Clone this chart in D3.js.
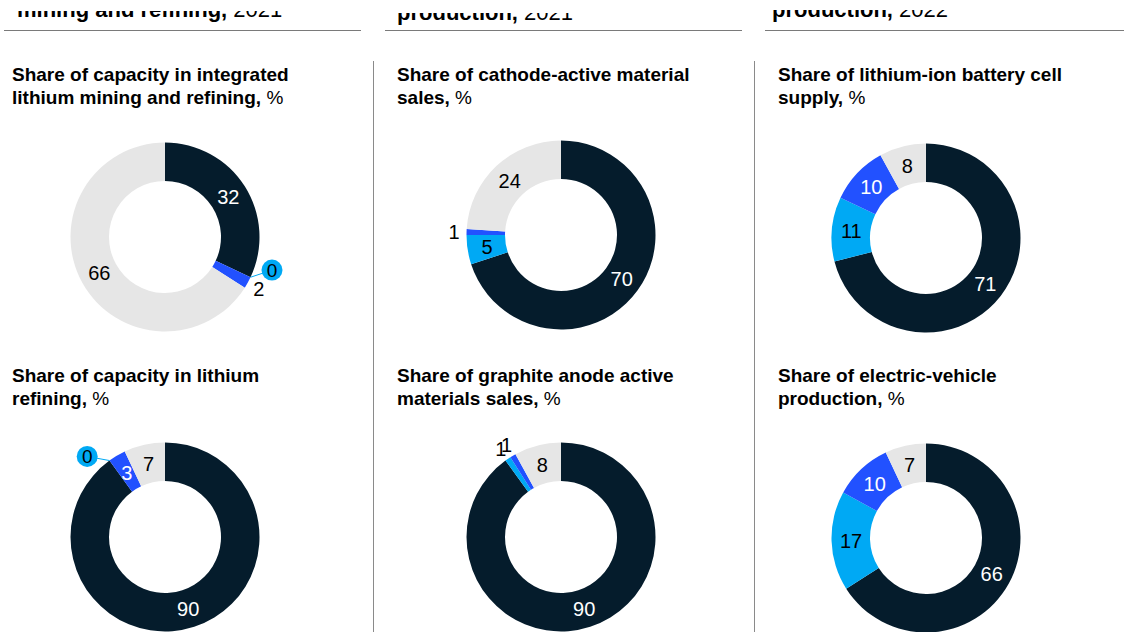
<!DOCTYPE html>
<html><head><meta charset="utf-8">
<script src="https://cdn.jsdelivr.net/npm/d3@7"></script>
<style>
html,body{margin:0;padding:0;background:#fff;overflow:hidden}
svg{display:block}
text{font-family:"Liberation Sans",Arial,Helvetica,sans-serif}
</style>
</head><body>
<svg id="chart" width="1125" height="632"></svg>
<script>
// ---------- data ----------
const segmentKeys = ["Leader", "Segment 2", "Segment 3", "Rest of world"];
const headerBold = ["mining and refining,", "production,", "production,"];
const headerYear = ["2021", "2021", "2022"];
const titleLine1 = [
  "Share of capacity in integrated",
  "Share of cathode-active material",
  "Share of lithium-ion battery cell",
  "Share of capacity in lithium",
  "Share of graphite anode active",
  "Share of electric-vehicle"
];
const titleLine2 = [
  "lithium mining and refining,",
  "sales,",
  "supply,",
  "refining,",
  "materials sales,",
  "production,"
];
const titleUnit = "%";
const liMiningRefining = [32, 0, 2, 66];
const cathodeSales     = [70, 5, 1, 24];
const cellSupply       = [71, 11, 10, 8];
const liRefining       = [90, 0, 3, 7];
const anodeSales       = [90, 1, 1, 8];
const evProduction     = [66, 17, 10, 7];
const chartValues = [liMiningRefining, cathodeSales, cellSupply, liRefining, anodeSales, evProduction];

// ---------- layout / style ----------
const colors = ["#051C2C", "#00A9F4", "#2251FF", "#E6E6E6"];
const insideText = ["#ffffff", "#000000", "#ffffff", "#000000"];
const colCx = [165, 561, 926];
const rowCy = [[237, 235, 238], [537, 537, 538]];
const titleX = [12, 397, 778];
const titleBase = [81, 382];
const lineGap = 23;
const rInner = 56, rOuter = 94.5, rLabel = 75, rOutside = 107, rCallout = 112;
const headerCfg = [
  {x: 17, base: 17, clip: 11, r0: 4, r1: 361},
  {x: 397, base: 20, clip: 13, r0: 385, r1: 742},
  {x: 772, base: 17, clip: 10, r0: 765, r1: 1124}
];
const sepX = [373.5, 754.5];

const svg = d3.select("#chart");
const defs = svg.append("defs");

// headers (cut at top) + rules
headerCfg.forEach((h, i) => {
  defs.append("clipPath").attr("id", "hc" + i)
    .append("rect").attr("x", h.r0).attr("y", h.clip).attr("width", h.r1 - h.r0).attr("height", 30);
  const t = svg.append("text").attr("clip-path", `url(#hc${i})`)
    .attr("x", h.x).attr("y", h.base)
    .attr("font-size", 22).attr("fill", "#000");
  t.append("tspan").attr("font-weight", "bold").text(headerBold[i]);
  t.append("tspan").text(" " + headerYear[i]);
  svg.append("line").attr("x1", h.r0).attr("x2", h.r1).attr("y1", 30.5).attr("y2", 30.5)
    .attr("stroke", "#7a7a7a").attr("stroke-width", 1);
});

sepX.forEach(x => {
  svg.append("line").attr("x1", x).attr("x2", x).attr("y1", 61).attr("y2", 632)
    .attr("stroke", "#8a8a8a").attr("stroke-width", 1);
});

const pie = d3.pie().sort(null).value(d => d).startAngle(0).endAngle(2 * Math.PI);
const arc = d3.arc().innerRadius(rInner).outerRadius(rOuter);
const labelArc = d3.arc().innerRadius(rLabel).outerRadius(rLabel);
const polar = (r, a) => [r * Math.sin(a), -r * Math.cos(a)];
const calloutShift = -8 * Math.PI / 180;

chartValues.forEach((vals, k) => {
  const col = k % 3, row = Math.floor(k / 3);
  // title
  const tx = titleX[col], ty = titleBase[row];
  svg.append("text").attr("x", tx).attr("y", ty).attr("font-size", 19)
    .attr("font-weight", "bold").attr("fill", "#000").text(titleLine1[k]);
  const t2 = svg.append("text").attr("x", tx).attr("y", ty + lineGap).attr("font-size", 19).attr("fill", "#000");
  t2.append("tspan").attr("font-weight", "bold").text(titleLine2[k]);
  t2.append("tspan").text(" " + titleUnit);

  const g = svg.append("g").attr("transform", `translate(${colCx[col]},${rowCy[row][col]})`);
  const arcs = pie(vals);
  g.selectAll("path").data(arcs).join("path")
    .attr("d", arc).attr("fill", (d, i) => colors[i]);

  arcs.forEach((d, i) => {
    const mid = (d.startAngle + d.endAngle) / 2;
    if (d.value === 0) {
      const p0 = polar(rOuter, mid);
      const pc = polar(rCallout, mid + calloutShift);
      g.append("line").attr("x1", p0[0]).attr("y1", p0[1]).attr("x2", pc[0]).attr("y2", pc[1])
        .attr("stroke", colors[i]).attr("stroke-width", 1);
      g.append("circle").attr("cx", pc[0]).attr("cy", pc[1]).attr("r", 10.5).attr("fill", colors[i]);
      g.append("text").attr("x", pc[0]).attr("y", pc[1]).attr("dy", "0.36em")
        .attr("text-anchor", "middle").attr("font-size", 19).attr("fill", "#000").text(d.value);
    } else if (d.value < 3) {
      const p = polar(rOutside, mid);
      g.append("text").attr("x", p[0]).attr("y", p[1]).attr("dy", "0.36em")
        .attr("text-anchor", "middle").attr("font-size", 20).attr("fill", "#000").text(d.value);
    } else {
      const p = labelArc.centroid(d);
      g.append("text").attr("x", p[0]).attr("y", p[1]).attr("dy", "0.36em")
        .attr("text-anchor", "middle").attr("font-size", 20).attr("fill", insideText[i]).text(d.value);
    }
  });
});
</script>
</body></html>
